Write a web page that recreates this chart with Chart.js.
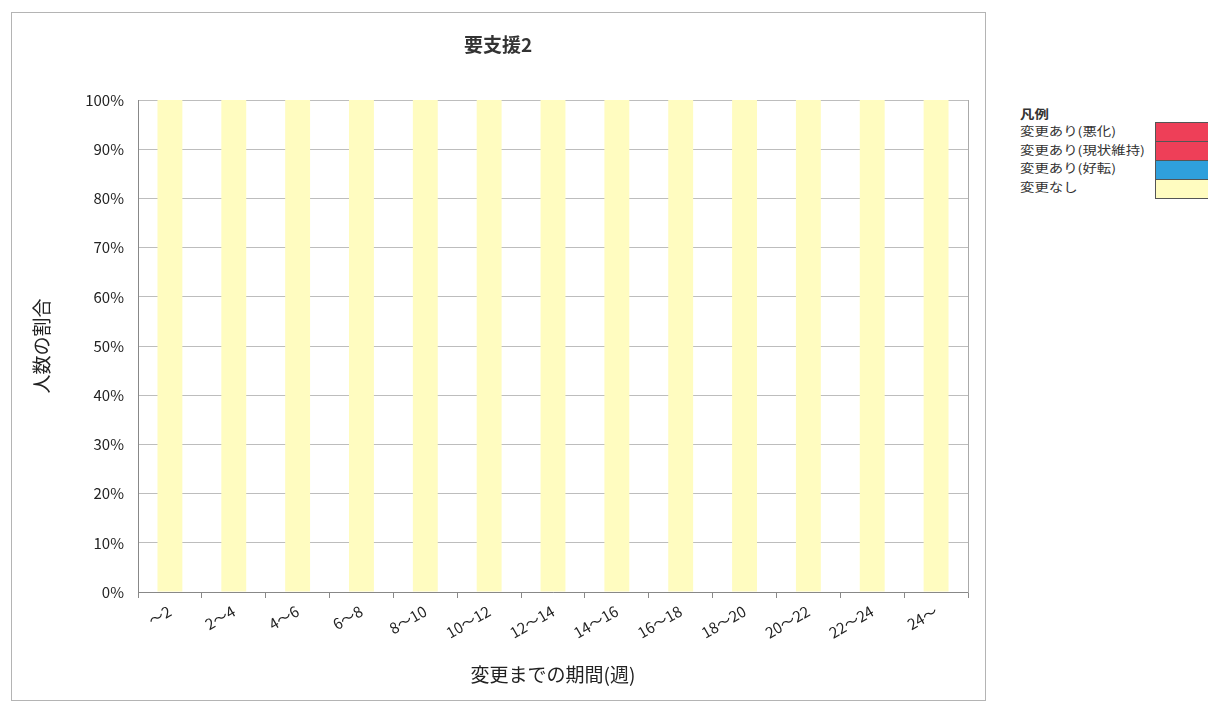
<!DOCTYPE html>
<html>
<head>
<meta charset="utf-8">
<script src="https://cdn.jsdelivr.net/npm/chart.js@4.4.0/dist/chart.umd.min.js"></script>
<style>
  body { margin: 0; background: #fff; width: 1208px; height: 702px; overflow: hidden; position: relative;
         font-family: "Noto Sans CJK JP", "Noto Sans", sans-serif; }
  .frame { position: absolute; left: 11px; top: 12px; width: 973px; height: 687px; border: 1px solid #b4b4b4; }
  .wrap { position: absolute; left: 12px; top: 13px; width: 972px; height: 686px; }
  .legend { position: absolute; left: 1020px; top: 106px; font-size: 12px; color: #333; }
  .legend div { transform: scaleX(1.2); transform-origin: left center; }
  .legend .head { font-weight: bold; height: 16px; line-height: 16px; }
  .legend .row { height: 18.5px; line-height: 18.5px; white-space: nowrap; }
  .swatches { position: absolute; left: 1155px; top: 122px; width: 60px; border: 1px solid #555; border-right: none; }
  .swatches div { height: 18px; border-bottom: 1px solid #555; }
  .swatches div:last-child { border-bottom: none; }
</style>
</head>
<body>
<div class="frame"></div>
<div class="wrap"><canvas id="c"></canvas></div>
<div class="legend" id="legend"></div>
<div class="swatches" id="swatches"></div>
<script>
// categories (weeks until change)
const periods = ['～2', '2～4', '4～6', '6～8', '8～10', '10～12', '12～14', '14～16', '16～18', '18～20', '20～22', '22～24', '24～'];

// share of people, percent
const worsened   = [0, 0, 0, 0, 0, 0, 0, 0, 0, 0, 0, 0, 0];
const maintained = [0, 0, 0, 0, 0, 0, 0, 0, 0, 0, 0, 0, 0];
const improved   = [0, 0, 0, 0, 0, 0, 0, 0, 0, 0, 0, 0, 0];
const unchanged  = [100, 100, 100, 100, 100, 100, 100, 100, 100, 100, 100, 100, 100];

const seriesNames = ['変更あり(悪化)', '変更あり(現状維持)', '変更あり(好転)', '変更なし'];
const seriesColors = ['#ee3f58', '#ee3f58', '#2fa0dc', '#fffcc0'];
const seriesData = [worsened, maintained, improved, unchanged];

const font = 'Noto Sans CJK JP';

// legend, same order as the reference
let legendHtml = '<div class="head">凡例</div>';
let swatchHtml = '';
seriesNames.forEach((n, i) => {
  legendHtml += `<div class="row">${n}</div>`;
  swatchHtml += `<div style="background:${seriesColors[i]}"></div>`;
});
document.getElementById('legend').innerHTML = legendHtml;
document.getElementById('swatches').innerHTML = swatchHtml;

// bottom of stack first
const datasets = [];
for (let i = seriesNames.length - 1; i >= 0; i--) {
  datasets.push({
    label: seriesNames[i],
    data: seriesData[i],
    backgroundColor: seriesColors[i],
    borderWidth: 0,
    barPercentage: 0.39,
    categoryPercentage: 1
  });
}

new Chart(document.getElementById('c'), {
  type: 'bar',
  data: { labels: periods, datasets: datasets },
  options: {
    responsive: true,
    maintainAspectRatio: false,
    animation: false,
    layout: { padding: 0 },
    plugins: {
      legend: { display: false },
      tooltip: { enabled: false },
      title: {
        display: true,
        text: '要支援2',
        color: '#333',
        font: { family: font, size: 19, weight: 'bold' },
        padding: { top: 20.6, bottom: 43.6 }
      }
    },
    scales: {
      x: {
        stacked: true,
        grid: { offset: true, drawOnChartArea: false, tickLength: 6, color: '#888' },
        border: { color: '#888' },
        ticks: { minRotation: 30, maxRotation: 30, color: '#222', font: { family: font, size: 15 }, padding: 4 },
        title: { display: true, text: '変更までの期間(週)', color: '#222', font: { family: font, size: 19 }, padding: { top: 0, bottom: 12.6 } },
        afterFit: s => { s.height = 107; }
      },
      y: {
        stacked: true,
        min: 0,
        max: 100,
        ticks: { stepSize: 10, callback: v => v + '%', color: '#222', font: { family: font, size: 15 }, padding: 14 },
        grid: { color: '#bdbdbd', drawTicks: false },
        border: { color: '#888' },
        title: { display: true, text: '人数の割合', color: '#222', font: { family: font, size: 19 }, padding: { top: 18.6, bottom: 0 } },
        afterFit: s => { s.width = 126; }
      },
      y2: {
        position: 'right',
        min: 0,
        max: 100,
        ticks: { display: false },
        grid: { drawOnChartArea: false, drawTicks: false },
        border: { color: '#aaa' },
        afterFit: s => { s.width = 16; }
      }
    }
  }
});
</script>
</body>
</html>
